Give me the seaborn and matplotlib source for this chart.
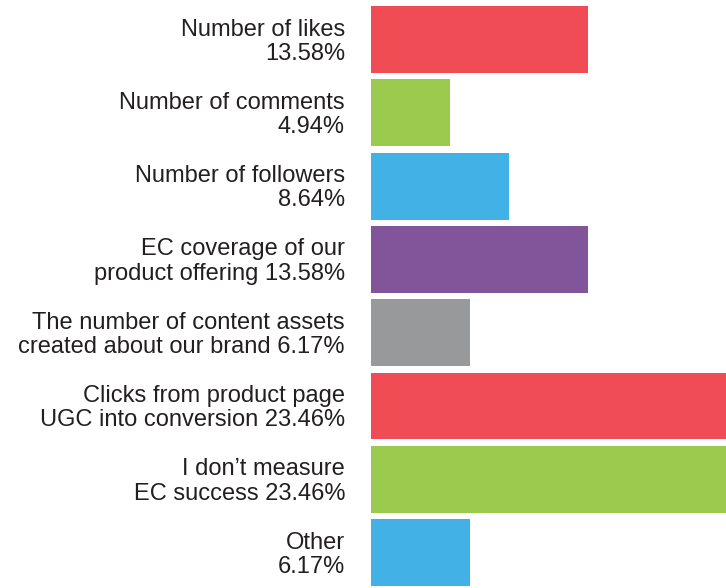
import matplotlib
matplotlib.use("Agg")
import matplotlib.pyplot as plt
import matplotlib.transforms as mtransforms
import seaborn as sns
import pandas as pd

categories = [
    "Number of likes",
    "Number of comments",
    "Number of followers",
    "EC coverage of our\nproduct offering",
    "The number of content assets\ncreated about our brand",
    "Clicks from product page\nUGC into conversion",
    "I don\u2019t measure\nEC success",
    "Other",
]
values = [13.58, 4.94, 8.64, 13.58, 6.17, 23.46, 23.46, 6.17]
label_texts = [
    "Number of likes\n13.58%",
    "Number of comments\n4.94%",
    "Number of followers\n8.64%",
    "EC coverage of our\nproduct offering 13.58%",
    "The number of content assets\ncreated about our brand 6.17%",
    "Clicks from product page\nUGC into conversion 23.46%",
    "I don\u2019t measure\nEC success 23.46%",
    "Other\n6.17%",
]
colors = ["#EF4C56", "#9ACB4E", "#42B2E6", "#82559A", "#98999B",
          "#EF4C56", "#9ACB4E", "#42B2E6"]

sns.set_theme(style="white")
plt.rcParams["font.family"] = ["Liberation Sans", "DejaVu Sans"]

df = pd.DataFrame({"category": categories, "value": values})

fig = plt.figure(figsize=(7.26, 5.88), dpi=100)
ax = fig.add_axes([371 / 726, 0, 355 / 726, 1])
sns.barplot(data=df, x="value", y="category", hue="category",
            palette=colors, order=categories, hue_order=categories,
            orient="h", width=0.914, legend=False, ax=ax,
            saturation=1, linewidth=0)
ax.set_xlim(0, 355 / 16)
ax.set_ylim(7.483, -0.539)
ax.set_axis_off()

trans = mtransforms.blended_transform_factory(fig.transFigure, ax.transData)
for i, t in enumerate(label_texts):
    ax.text(345 / 726, i + 0.03, t, transform=trans, ha="right", va="center",
            multialignment="right", fontsize=17, color="#231F20",
            linespacing=1.14, clip_on=False)

fig.savefig("out.png", dpi=100)
